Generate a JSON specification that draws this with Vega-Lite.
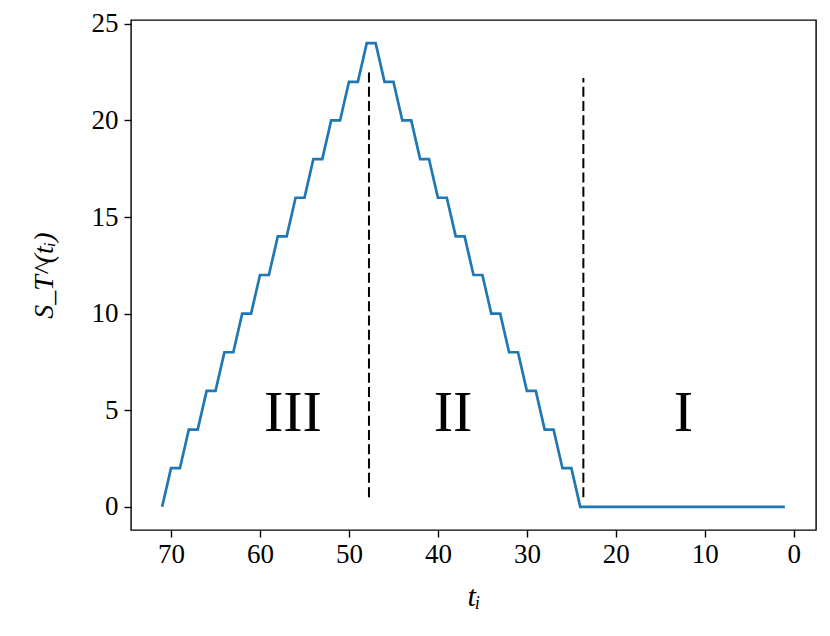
{
  "$schema": "https://vega.github.io/schema/vega-lite/v6.json",
  "width": 685,
  "height": 510,
  "autosize": {"type": "none"},
  "padding": {"left": 131, "top": 20, "right": 14, "bottom": 106},
  "background": "white",
  "config": {
    "font": "Liberation Serif",
    "view": {"stroke": "black", "strokeWidth": 1.4},
    "axis": {"labelFont": "Liberation Serif", "titleFont": "Liberation Serif"}
  },
  "datasets": {
    "series": [
      {"t": 71, "s": 0}, {"t": 70, "s": 2}, {"t": 69, "s": 2}, {"t": 68, "s": 4}, {"t": 67, "s": 4},
      {"t": 66, "s": 6}, {"t": 65, "s": 6}, {"t": 64, "s": 8}, {"t": 63, "s": 8}, {"t": 62, "s": 10},
      {"t": 61, "s": 10}, {"t": 60, "s": 12}, {"t": 59, "s": 12}, {"t": 58, "s": 14}, {"t": 57, "s": 14},
      {"t": 56, "s": 16}, {"t": 55, "s": 16}, {"t": 54, "s": 18}, {"t": 53, "s": 18}, {"t": 52, "s": 20},
      {"t": 51, "s": 20}, {"t": 50, "s": 22}, {"t": 49, "s": 22}, {"t": 48, "s": 24}, {"t": 47, "s": 24},
      {"t": 46, "s": 22}, {"t": 45, "s": 22}, {"t": 44, "s": 20}, {"t": 43, "s": 20}, {"t": 42, "s": 18},
      {"t": 41, "s": 18}, {"t": 40, "s": 16}, {"t": 39, "s": 16}, {"t": 38, "s": 14}, {"t": 37, "s": 14},
      {"t": 36, "s": 12}, {"t": 35, "s": 12}, {"t": 34, "s": 10}, {"t": 33, "s": 10}, {"t": 32, "s": 8},
      {"t": 31, "s": 8}, {"t": 30, "s": 6}, {"t": 29, "s": 6}, {"t": 28, "s": 4}, {"t": 27, "s": 4},
      {"t": 26, "s": 2}, {"t": 25, "s": 2}, {"t": 24, "s": 0}, {"t": 23, "s": 0}, {"t": 22, "s": 0},
      {"t": 21, "s": 0}, {"t": 20, "s": 0}, {"t": 19, "s": 0}, {"t": 18, "s": 0}, {"t": 17, "s": 0},
      {"t": 16, "s": 0}, {"t": 15, "s": 0}, {"t": 14, "s": 0}, {"t": 13, "s": 0}, {"t": 12, "s": 0},
      {"t": 11, "s": 0}, {"t": 10, "s": 0}, {"t": 9, "s": 0}, {"t": 8, "s": 0}, {"t": 7, "s": 0},
      {"t": 6, "s": 0}, {"t": 5, "s": 0}, {"t": 4, "s": 0}, {"t": 3, "s": 0}, {"t": 2, "s": 0},
      {"t": 1, "s": 0}
    ],
    "dividers": [
      {"t": 47.75, "s": 0.5, "s2": 22.68},
      {"t": 23.65, "s": 0.5, "s2": 22.2}
    ],
    "regions": [
      {"t": 56.3, "s": 3.9, "label": "III"},
      {"t": 38.3, "s": 3.9, "label": "II"},
      {"t": 12.4, "s": 3.9, "label": "I"}
    ]
  },
  "layer": [
    {
      "data": {"name": "series"},
      "mark": {"type": "line", "color": "#1f77b4", "strokeWidth": 2.7, "clip": true},
      "encoding": {
        "x": {
          "field": "t", "type": "quantitative",
          "scale": {"domain": [-2.5, 74.5], "reverse": true, "nice": false, "zero": false},
          "axis": {
            "values": [0, 10, 20, 30, 40, 50, 60, 70], "title": "tᵢ",
            "grid": false, "domain": false,
            "tickColor": "black", "tickWidth": 1.4, "tickSize": 7,
            "labelFont": "Liberation Serif", "labelFontSize": 27, "labelColor": "black", "labelPadding": 4,
            "titleFont": "Liberation Serif", "titleFontSize": 30, "titleFontWeight": "normal", "titleFontStyle": "italic", "titleColor": "black",
            "titlePadding": 14
          }
        },
        "y": {
          "field": "s", "type": "quantitative",
          "scale": {"domain": [-1.2, 25.2], "nice": false, "zero": false},
          "axis": {
            "values": [0, 5, 10, 15, 20, 25], "title": "S_T^(tᵢ)",
            "grid": false, "domain": false,
            "tickColor": "black", "tickWidth": 1.4, "tickSize": 7,
            "labelFont": "Liberation Serif", "labelFontSize": 27, "labelColor": "black", "labelPadding": 6,
            "titleFont": "Liberation Serif", "titleFontSize": 28, "titleFontWeight": "normal", "titleFontStyle": "italic", "titleColor": "black",
            "titlePadding": 33
          }
        }
      }
    },
    {
      "data": {"name": "dividers"},
      "mark": {"type": "rule", "color": "black", "strokeWidth": 2, "strokeDash": [10, 4.3]},
      "encoding": {
        "x": {"field": "t", "type": "quantitative"},
        "y": {"field": "s", "type": "quantitative"},
        "y2": {"field": "s2"}
      }
    },
    {
      "data": {"name": "regions"},
      "mark": {"type": "text", "font": "Liberation Serif", "fontSize": 58, "color": "black", "baseline": "alphabetic", "align": "center"},
      "encoding": {
        "x": {"field": "t", "type": "quantitative"},
        "y": {"field": "s", "type": "quantitative"},
        "text": {"field": "label", "type": "nominal"}
      }
    }
  ]
}
